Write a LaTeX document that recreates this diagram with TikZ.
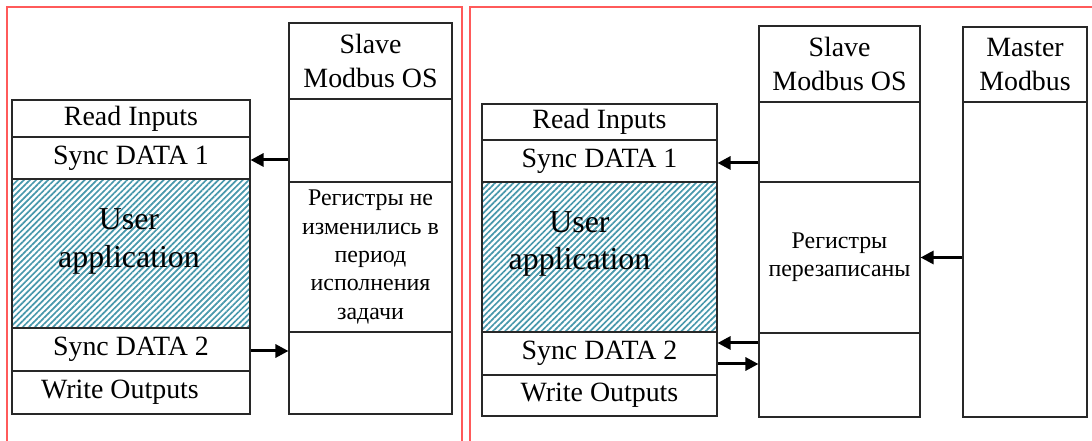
\documentclass[tikz,border=0pt]{standalone}
\usepackage{fontspec}
\setmainfont{Liberation Serif}
\usetikzlibrary{arrows.meta,patterns.meta}
\definecolor{frame}{RGB}{255,90,90}
\definecolor{hatch}{RGB}{72,152,172}
\definecolor{edge}{RGB}{40,40,40}
\tikzset{
  box/.style={draw=edge, line width=1.1bp, inner sep=0pt, align=center,
    font=\fontsize{28}{34}\selectfont},
  rutext/.style={font=\fontsize{24}{28.5}\selectfont},
  hatchbox/.style={box, pattern={Lines[angle=45,distance=4.3bp,line width=1.7bp]}, pattern color=hatch},
  bigtext/.style={inner sep=0pt, align=center, font=\fontsize{32}{38}\selectfont},
  arr/.style={line width=3bp, -{Triangle[length=13bp,width=13bp]}},
  redframe/.style={draw=frame, line width=1.6bp}
}
\begin{document}
\begin{tikzpicture}[x=1bp,y=-1bp]
\useasboundingbox (0,0) rectangle (1092,441);
% red frames
\draw[redframe] (6.7,441) -- (6.7,7) -- (462,7) -- (462,441);
\draw[redframe] (470,441) -- (470,7) -- (1092,7);

% ---------- left panel ----------
\node[box, minimum width=238bp, minimum height=37bp] (lri) at (131,118.5) {Read Inputs};
\node[box, minimum width=238bp, minimum height=42bp] (ls1) at (131,158) {Sync DATA 1};
\node[hatchbox, minimum width=238bp, minimum height=149bp] (lua) at (131,253.5) {};
\node[bigtext] (luat) at ([xshift=-2bp,yshift=12bp]lua.center) {User\\application};
\node[box, minimum width=238bp, minimum height=43bp] (ls2) at (131,349.5) {Sync DATA 2};
\node[box, minimum width=238bp, minimum height=43bp] (lwo) at (131,392.5) {\hspace*{-22bp}Write Outputs};

\node[box, minimum width=163bp, minimum height=76bp] (lhd) at (370.5,61) {Slave\\Modbus OS};
\node[box, minimum width=163bp, minimum height=83bp] (le1) at (370.5,140.5) {};
\node[box, rutext, minimum width=163bp, minimum height=150bp] (lreg) at (370.5,257) {Регистры не\\изменились в\\период\\исполнения\\задачи};
\node[box, minimum width=163bp, minimum height=82bp] (le2) at (370.5,373) {};

\draw[arr] ([yshift=-2bp]le1.west |- ls1.east) -- ([yshift=-2bp]ls1.east);
\draw[arr] ([yshift=-1.5bp]ls2.east) -- ([yshift=-1.5bp]le2.west |- ls2.east);

% ---------- right panel ----------
\node[box, minimum width=235bp, minimum height=36bp] (rri) at (599.5,122) {Read Inputs};
\node[box, minimum width=235bp, minimum height=42bp] (rs1) at (599.5,161) {Sync DATA 1};
\node[hatchbox, minimum width=235bp, minimum height=150bp] (rua) at (599.5,257) {};
\node[bigtext] (ruat) at ([xshift=-20bp,yshift=13bp]rua.center) {User\\application};
\node[box, minimum width=235bp, minimum height=43bp] (rs2) at (599.5,353.5) {Sync DATA 2};
\node[box, minimum width=235bp, minimum height=41bp] (rwo) at (599.5,395.5) {Write Outputs};

\node[box, minimum width=161bp, minimum height=76bp] (rhd) at (839.5,64) {Slave\\Modbus OS};
\node[box, minimum width=161bp, minimum height=80bp] (re1) at (839.5,142) {};
\node[box, rutext, minimum width=161bp, minimum height=151bp] (rreg) at (839.5,257.5) {Регистры\\перезаписаны};
\node[box, minimum width=161bp, minimum height=84bp] (re2) at (839.5,375) {};

\node[box, minimum width=124bp, minimum height=75bp] (mhd) at (1025,64.5) {Master\\Modbus};
\node[box, minimum width=124bp, minimum height=315bp] (mbd) at (1025,259.5) {};

\draw[arr] ([yshift=-2bp]re1.west |- rs1.east) -- ([yshift=-2bp]rs1.east);
\draw[arr] (mbd.west |- rreg.east) -- (rreg.east);
\draw[arr] ([yshift=10.5bp]re2.west |- rs2.east) -- ([yshift=10.5bp]rs2.east);
\draw[arr] ([yshift=-10.5bp]rs2.east) -- ([yshift=-10.5bp]re2.west |- rs2.east);
\end{tikzpicture}
\end{document}
